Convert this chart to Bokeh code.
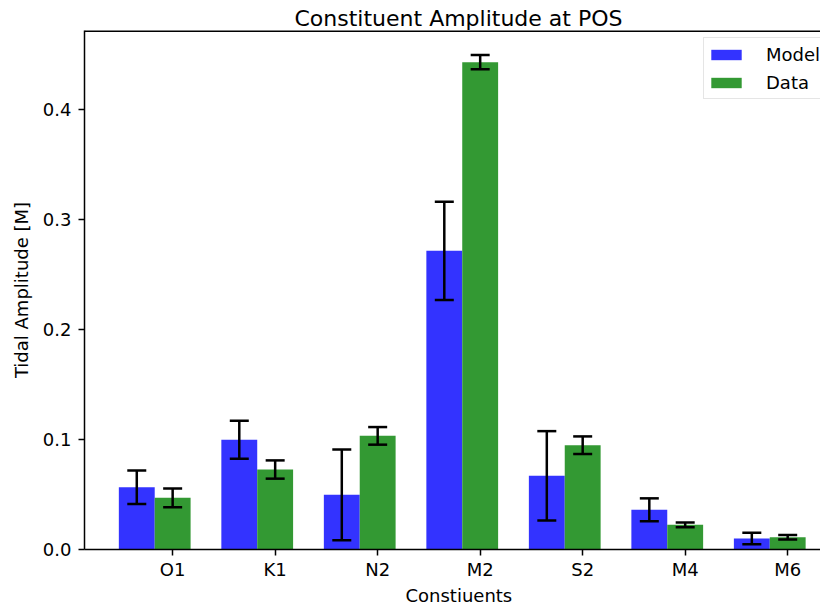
from bokeh.plotting import figure
from bokeh.models import (ColumnDataSource, Whisker, TeeHead, FixedTicker, Span,
                          Range1d, Legend, Title)
from bokeh.embed import file_html
from bokeh.resources import INLINE

# ---- data ----
constituents = ["O1", "K1", "N2", "M2", "S2", "M4", "M6"]
model_amp = [0.0566, 0.0997, 0.0497, 0.2715, 0.0670, 0.0361, 0.0100]
model_err = [0.0153, 0.0173, 0.0412, 0.0447, 0.0406, 0.0104, 0.0052]
data_amp = [0.0470, 0.0727, 0.1033, 0.4430, 0.0948, 0.0224, 0.0112]
data_err = [0.0085, 0.0083, 0.0080, 0.0065, 0.0080, 0.0022, 0.0020]
y_ticks = [0.0, 0.1, 0.2, 0.3, 0.4]
bar_width = 0.35

idx = list(range(len(constituents)))
x_model = [i for i in idx]
x_data = [i + bar_width for i in idx]

src_m = ColumnDataSource(dict(x=x_model, top=model_amp,
                              lower=[a - e for a, e in zip(model_amp, model_err)],
                              upper=[a + e for a, e in zip(model_amp, model_err)]))
src_d = ColumnDataSource(dict(x=x_data, top=data_amp,
                              lower=[a - e for a, e in zip(data_amp, data_err)],
                              upper=[a + e for a, e in zip(data_amp, data_err)]))

FONT = "DejaVu Sans"
Y_TOP = 0.4718

p = figure(width=820, height=605, output_backend="svg", toolbar_location=None,
           x_range=Range1d(-0.51, 6.67), y_range=Range1d(0, Y_TOP),
           min_border_left=84, min_border_right=0, min_border_top=30, min_border_bottom=56,
           title=None)
p.outline_line_color = None
p.xgrid.visible = False
p.ygrid.visible = False
p.background_fill_color = "white"
p.border_fill_color = "white"

r_m = p.vbar(x="x", top="top", width=bar_width, source=src_m,
             fill_color="#3333ff", line_color=None)
r_d = p.vbar(x="x", top="top", width=bar_width, source=src_d,
             fill_color="#339933", line_color=None)

for src in (src_m, src_d):
    w = Whisker(base="x", upper="upper", lower="lower", source=src, level="overlay",
                line_color="black", line_width=2.5,
                upper_head=TeeHead(size=19, line_color="black", line_width=2.5),
                lower_head=TeeHead(size=19, line_color="black", line_width=2.5))
    p.add_layout(w)

# top spine
p.add_layout(Span(location=Y_TOP, dimension="width", line_color="black", line_width=3))

# axes
xa = p.xaxis[0]
xa.ticker = FixedTicker(ticks=x_data)
xa.major_label_overrides = {x: c for x, c in zip(x_data, constituents)}
ya = p.yaxis[0]
ya.ticker = FixedTicker(ticks=y_ticks)
ya.major_label_overrides = {v: f"{v:.1f}" for v in y_ticks}
ya.axis_label = "Tidal Amplitude [M]"
for ax in (xa, ya):
    ax.axis_line_color = "black"
    ax.axis_line_width = 1.5
    ax.major_tick_line_color = "black"
    ax.major_tick_line_width = 1.5
    ax.major_tick_out = 6
    ax.major_tick_in = 0
    ax.minor_tick_line_color = None
    ax.major_label_text_font = FONT
    ax.major_label_text_font_size = "18px"
    ax.major_label_text_color = "black"
    ax.major_label_standoff = 7
    ax.axis_label_text_font = FONT
    ax.axis_label_text_font_size = "18px"
    ax.axis_label_text_font_style = "normal"
    ax.axis_label_text_color = "black"
ya.axis_label_standoff = 8
xa.major_label_standoff = 3

# title (above) and x label (below), positioned from the frame's left edge
p.add_layout(Title(text="Constituent Amplitude at POS", align="left", offset=210,
                   text_font=FONT, text_font_size="22px", text_font_style="normal",
                   text_color="black", standoff=0), "above")
p.add_layout(Title(text="Constiuents", align="left", offset=321,
                   text_font=FONT, text_font_size="18px", text_font_style="normal",
                   text_color="black", standoff=0), "below")

legend = Legend(items=[("Model", [r_m]), ("Data", [r_d])], location=(619, 450))
legend.label_text_font = FONT
legend.label_text_font_size = "18px"
legend.label_text_color = "black"
legend.glyph_width = 38
legend.glyph_height = 13
legend.label_standoff = 21
legend.label_height = 26
legend.spacing = 2
legend.padding = 3
legend.margin = 0
legend.border_line_color = "#cccccc"
legend.border_line_width = 1.5
legend.background_fill_alpha = 0.8
p.add_layout(legend)

open("out.html", "w").write(file_html(p, INLINE))
